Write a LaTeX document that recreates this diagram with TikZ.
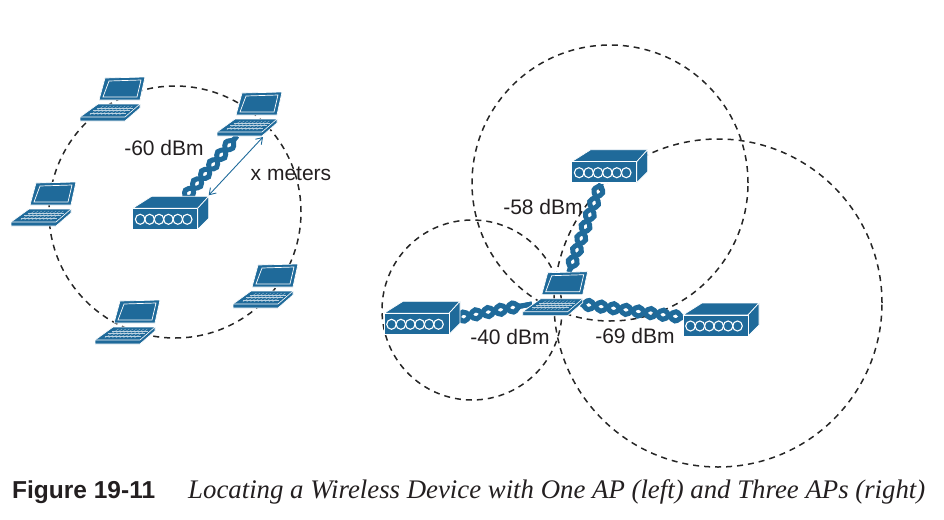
\documentclass[tikz,border=0pt]{standalone}
\usepackage{fontspec}
\setmainfont{Liberation Sans}
\newfontfamily\capfont{Liberation Serif}
\usetikzlibrary{arrows.meta,backgrounds,calc,decorations.pathmorphing}
\definecolor{devblue}{HTML}{1F6A9A}
\definecolor{inktext}{HTML}{231F20}
\tikzset{
  devshape/.style={fill=devblue,draw=white,line width=0.7pt,line join=round},
  laptop/.pic={
    \draw[devshape] (-8,-22) -- (32,-23) -- (27,0) -- (-14,0) -- cycle;
    \draw[white,line width=0.7pt] (-4,-19) -- (28,-20) -- (24,-3) -- (-10,-3) -- cycle;
    \draw[devshape] (-15,4) -- (27,4) -- (27,8) -- (12,21) -- (-33,21) -- (-33,17) -- cycle;
    \draw[white,line width=0.6pt] (-33,17) -- (12,17) -- (27,4);
    \foreach \k in {0.25,0.5,0.75}
      \draw[white!70!devblue,line width=0.25pt] ($(-13,6)!\k!(-27,15)$) -- ($(23,6)!\k!(10,15)$);
    \foreach \k in {0.1,0.2,...,0.95}
      \draw[white!70!devblue,line width=0.25pt] ($(-13,6)!\k!(23,6)$) -- ($(-27,15)!\k!(10,15)$);
    \coordinate (-front) at (13,22);
  },
  apbox/.pic={
    \draw[devshape] (0,0) -- (19,-12) -- (76,-12) -- (65,0) -- cycle;
    \draw[devshape] (65,0) -- (76,-12) -- (76,10) -- (65,21) -- cycle;
    \draw[devshape] (0,0) rectangle (65,21);
    \foreach \k in {0,1,2,3,4,5}
      \draw[white,line width=1.1pt] (7.5+9.4*\k,11) ellipse (4.8 and 5);
    \coordinate (-corner) at (76,-13);
  },
  cable/.style={devblue,line width=5pt,decorate,decoration={snake,amplitude=4.6pt,segment length=25pt}},
  cablemir/.style={cable,decoration={snake,mirror,amplitude=4.6pt,segment length=25pt}},
}
\newcommand{\twist}[2]{
  \draw[cable] (#1) -- (#2);
  \draw[cablemir] (#1) -- (#2);
}
\begin{document}
\begin{tikzpicture}[
  x=1pt,y=-1pt,
  rangering/.style={circle,draw=black!85,line width=1.5pt,dash pattern=on 6pt off 5pt,inner sep=0pt},
  dbm/.style={inner sep=0pt,text=inktext,font=\fontsize{21}{24}\selectfont},
  capt/.style={inner sep=0pt,anchor=base west,text=inktext}
  ]
  \useasboundingbox (0,0) rectangle (944,519);
  % left, one AP
  \pic (lapa) at (113,100) {laptop};
  \pic (lapb) at (250,115) {laptop};
  \pic (lapc) at (44,205) {laptop};
  \pic (lapd) at (128,323) {laptop};
  \pic (lape) at (266,287) {laptop};
  \pic (apa) at (132.7,208.3) {apbox};
  % right, three APs
  \pic (lapf) at (555.7,294.7) {laptop};
  \pic (apb) at (571.7,161.7) {apbox};
  \pic (apc) at (384,313.3) {apbox};
  \pic (apd) at (683,315) {apbox};
  \coordinate (cablea) at (184,199);
  \coordinate (cableb) at (237,136);
  \coordinate (cablec) at (601,184);
  \coordinate (cabled) at (569,272);
  \coordinate (cablee) at (456,318);
  \coordinate (cablef) at (532,304);
  \coordinate (cableg) at (581,304);
  \coordinate (cableh) at (688,318);
  \begin{scope}[on background layer]
    \node[rangering,minimum size=252pt] (rangea) at (175,212) {};
    \node[rangering,minimum size=276pt] (rangeb) at (610,183) {};
    \node[rangering,minimum size=180pt] (rangec) at (472,310) {};
    \node[rangering,minimum size=328pt] (ranged) at (718,303) {};
    \twist{cablea}{cableb}
    \twist{cablec}{cabled}
    \twist{cablee}{cablef}
    \twist{cableg}{cableh}
  \end{scope}
  \draw[devblue,line width=0.9pt,{Straight Barb[length=6pt,width=8pt]}-{Straight Barb[length=6pt,width=8pt]}] (apa-corner) -- (lapb-front);
  \node[dbm] (siga) at (164,148) {-60 dBm};
  \node[dbm] (dist) at (291,174) {x meters};
  \node[dbm] (sigb) at (543,207) {-58 dBm};
  \node[dbm] (sigc) at (510,337) {-40 dBm};
  \node[dbm] (sigd) at (635,336) {-69 dBm};
  \node[capt,font=\fontsize{24.5}{28}\selectfont\bfseries] (fignum) at (12,498) {Figure 19-11};
  \node[capt,font=\capfont\fontsize{26.8}{30}\selectfont\itshape] (figcap) at (188,498) {Locating a Wireless Device with One AP (left) and Three APs (right)};
\end{tikzpicture}
\end{document}
